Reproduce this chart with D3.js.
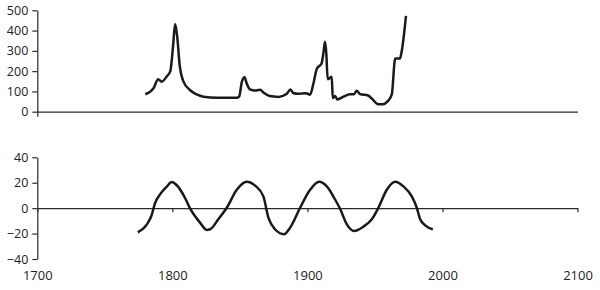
<!DOCTYPE html>
<meta charset="utf-8">
<head>
  <meta charset="utf-8">
  <title>Two panel series</title>
  <style>
    body { margin: 0; background: #fff; }
    .axis text { font-family: "Open Sans", sans-serif; font-size: 12.5px; fill: #222; }
    .axis.years text { font-size: 13px; }
    .axis path, .axis line { stroke: #2a2a2a; stroke-width: 1.2; }
  </style>
</head>
<body>
<script src="https://cdn.jsdelivr.net/npm/d3@7"></script>
<script>

// top panel series
var topYears  = [1780, 1786, 1789.5, 1792, 1796, 1798.5, 1800.5, 1802, 1803.5, 1805.5, 1808, 1813, 1818, 1823, 1833, 1848, 1849.5, 1851.5, 1853.5, 1855, 1857.5, 1861, 1865, 1867.5, 1872, 1878.5, 1884.5, 1887.5, 1889.5, 1893, 1896, 1899, 1902, 1904.5, 1907, 1910.5, 1912, 1913, 1914, 1915, 1917, 1918, 1918.8, 1920.5, 1922.2, 1926.7, 1931.5, 1934.5, 1936.5, 1939, 1945, 1947.5, 1952.5, 1956, 1959.5, 1962.5, 1965, 1968.5, 1970, 1973];
var topValues = [86, 115, 160, 148, 175, 200, 320, 432, 375, 225, 152, 107, 85, 74, 69, 69, 75, 148, 170, 140, 110, 104, 108, 94, 77, 73, 87, 110, 92, 88, 90, 91, 84, 140, 212, 238, 296, 345, 288, 160, 168, 172, 68, 78, 60, 74, 86, 86, 103, 87, 80, 66, 37, 37, 52, 85, 262, 262, 305, 473];

// bottom panel series
var cycleYears  = [1774.4, 1781, 1784.5, 1787.2, 1791, 1795.9, 1799.6, 1803.3, 1809.4, 1813, 1820.5, 1825.5, 1828, 1834, 1840.3, 1847.7, 1855.1, 1861.3, 1867.4, 1871.1, 1876, 1882.7, 1887.2, 1894.6, 1902, 1908.7, 1914.4, 1920.5, 1924.2, 1929.2, 1934.6, 1941.5, 1947.7, 1952.6, 1958.8, 1965, 1971.1, 1977.3, 1981, 1983.5, 1987.2, 1992.9];
var cycleValues = [-19, -13, -6, 4, 11, 17, 20.5, 18, 8, 0, -11.4, -17.1, -16.6, -8.8, 0.3, 14.5, 20.8, 17.7, 9.3, -7.5, -16.6, -20.5, -15.3, 0.3, 14.5, 20.8, 17.1, 6.8, -0.5, -12.7, -17.9, -14.5, -8.8, 0.3, 14.5, 20.8, 17.1, 9.3, 0.3, -8.8, -13.5, -16.6];

// tick labels
var yearTicks = [1700, 1800, 1900, 2000, 2100];
var topTicks = [0, 100, 200, 300, 400, 500];
var cycleTicks = [-40, -20, 0, 20, 40];

var width = 600, height = 290;

var svg = d3.select("body").append("svg")
    .attr("width", width)
    .attr("height", height);

var x = d3.scaleLinear().domain([1700, 2100]).range([37.3, 577.5]);
var yTop = d3.scaleLinear().domain([0, 500]).range([111.7, 10.3]);
var yBot = d3.scaleLinear().domain([-40, 40]).range([259, 157.3]);

// top panel axes
svg.append("g")
    .attr("class", "axis")
    .attr("transform", "translate(" + x(1700) + ",0)")
    .call(d3.axisLeft(yTop).tickValues(topTicks).tickSize(5).tickSizeOuter(0).tickPadding(4));

svg.append("g")
    .attr("class", "axis")
    .attr("transform", "translate(0," + yTop(0) + ")")
    .call(d3.axisBottom(x).tickValues([1700]).tickSize(5).tickSizeOuter(0).tickFormat(""));

// bottom panel axes
svg.append("g")
    .attr("class", "axis")
    .attr("transform", "translate(" + x(1700) + ",0)")
    .call(d3.axisLeft(yBot).tickValues(cycleTicks).tickSize(5).tickSizeOuter(0).tickPadding(4));

svg.append("g")
    .attr("class", "axis")
    .attr("transform", "translate(0," + yBot(0) + ")")
    .call(d3.axisBottom(x).tickValues(yearTicks).tickSize(4).tickSizeOuter(0).tickFormat(""));

// year labels sit at the bottom of the panel
var labels = svg.append("g")
    .attr("class", "axis years")
    .attr("transform", "translate(0," + yBot(-40) + ")")
    .call(d3.axisBottom(x).tickValues(yearTicks).tickSize(0).tickPadding(12).tickFormat(d3.format("d")));
labels.select(".domain").remove();

// lines
var topLine = d3.line()
    .x(function(d, i) { return x(topYears[i]); })
    .y(function(d) { return yTop(d); })
    .curve(d3.curveMonotoneX);

var botLine = d3.line()
    .x(function(d, i) { return x(cycleYears[i]); })
    .y(function(d) { return yBot(d); })
    .curve(d3.curveMonotoneX);

svg.append("path")
    .datum(topValues)
    .attr("fill", "none")
    .attr("stroke", "#1a1a1a")
    .attr("stroke-width", 2.5)
    .attr("stroke-linejoin", "round")
    .attr("d", topLine);

svg.append("path")
    .datum(cycleValues)
    .attr("fill", "none")
    .attr("stroke", "#1a1a1a")
    .attr("stroke-width", 2.5)
    .attr("stroke-linejoin", "round")
    .attr("d", botLine);

</script>
</body>
